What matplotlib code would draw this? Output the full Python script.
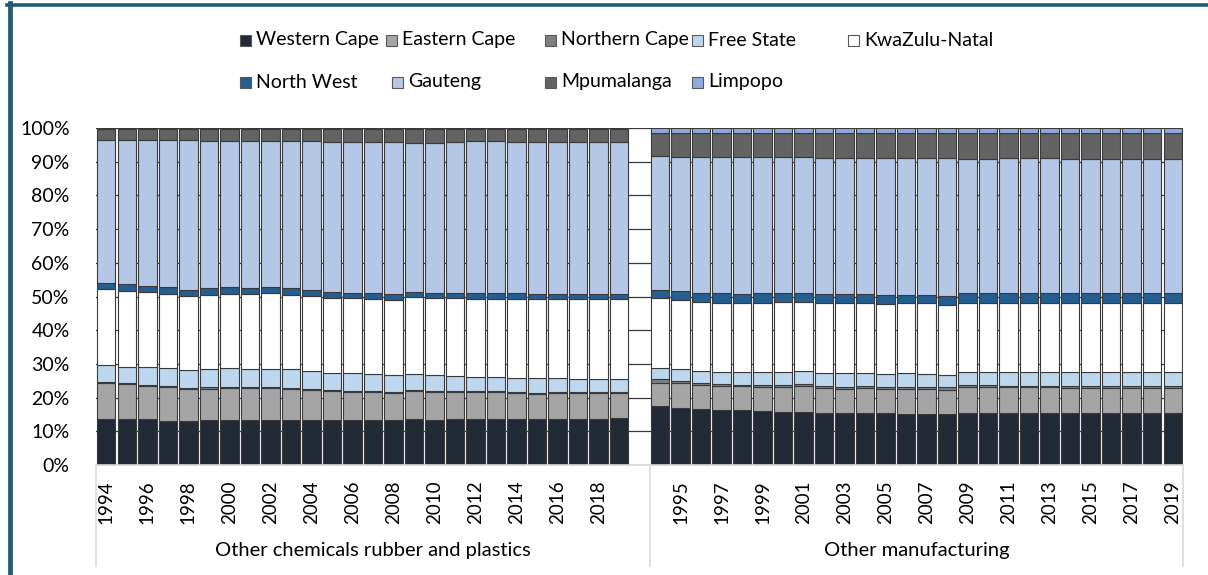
import numpy as np
import matplotlib
matplotlib.use("Agg")
import matplotlib.pyplot as plt
from matplotlib.patches import Rectangle
from matplotlib.lines import Line2D
import matplotlib.transforms as mtransforms

plt.rcParams['font.family'] = ['Lato', 'DejaVu Sans']

# ---------------- data ----------------
years = [1994, 1995, 1996, 1997, 1998, 1999, 2000, 2001, 2002, 2003, 2004, 2005, 2006,
         2007, 2008, 2009, 2010, 2011, 2012, 2013, 2014, 2015, 2016, 2017, 2018, 2019]
groups = ["Other chemicals rubber and plastics", "Other manufacturing"]
provinces = ["Western Cape", "Eastern Cape", "Northern Cape", "Free State", "KwaZulu-Natal",
             "North West", "Gauteng", "Mpumalanga", "Limpopo"]

# Other chemicals rubber and plastics (share %, by year)
chem_wc = [13.6, 13.6, 13.6, 13.2, 13.2, 13.4, 13.4, 13.4, 13.4, 13.4, 13.4, 13.4, 13.4,
           13.4, 13.4, 13.7, 13.4, 13.6, 13.6, 13.6, 13.6, 13.6, 13.7, 13.7, 13.7, 13.9]
chem_ec = [10.7, 10.3, 9.9, 9.9, 9.3, 9.3, 9.5, 9.5, 9.5, 9.2, 9.0, 8.6, 8.4,
           8.4, 8.1, 8.3, 8.4, 8.2, 8.0, 8.0, 7.9, 7.6, 7.7, 7.7, 7.7, 7.5]
chem_nc = [0.3, 0.3, 0.3, 0.3, 0.3, 0.3, 0.3, 0.3, 0.3, 0.3, 0.3, 0.3, 0.3,
           0.3, 0.3, 0.3, 0.3, 0.3, 0.3, 0.3, 0.3, 0.3, 0.3, 0.3, 0.3, 0.3]
chem_fs = [5.1, 5.0, 5.4, 5.3, 5.5, 5.6, 5.5, 5.4, 5.4, 5.5, 5.3, 5.1, 5.1,
           4.9, 4.9, 4.7, 4.6, 4.4, 4.3, 4.1, 4.1, 4.2, 4.0, 3.8, 3.9, 3.9]
chem_kzn = [22.4, 22.4, 22.0, 22.0, 21.8, 21.9, 22.0, 22.1, 22.3, 22.1, 22.2, 22.3, 22.3,
            22.4, 22.3, 22.8, 22.8, 23.0, 23.2, 23.4, 23.5, 23.5, 23.7, 23.9, 23.6, 23.8]
chem_nw = [2.0, 2.0, 2.0, 2.0, 1.8, 2.0, 2.0, 1.9, 2.0, 1.9, 1.8, 1.6, 1.5,
           1.5, 1.7, 1.5, 1.5, 1.6, 1.6, 1.6, 1.5, 1.6, 1.4, 1.4, 1.5, 1.4]
chem_gp = [42.3, 42.7, 43.1, 43.6, 44.4, 43.7, 43.5, 43.6, 43.1, 43.6, 44.0, 44.5, 44.8,
           44.9, 45.1, 44.3, 44.5, 44.7, 45.0, 45.0, 44.9, 44.9, 44.9, 44.9, 45.0, 44.9]
chem_mp = [3.2, 3.3, 3.3, 3.3, 3.3, 3.4, 3.4, 3.4, 3.6, 3.6, 3.6, 3.8, 3.8,
           3.8, 3.8, 4.0, 4.1, 3.8, 3.6, 3.6, 3.8, 3.9, 3.9, 3.9, 3.9, 3.9]
chem_lp = [0.4, 0.4, 0.4, 0.4, 0.4, 0.4, 0.4, 0.4, 0.4, 0.4, 0.4, 0.4, 0.4,
           0.4, 0.4, 0.4, 0.4, 0.4, 0.4, 0.4, 0.4, 0.4, 0.4, 0.4, 0.4, 0.4]

# Other manufacturing (share %, by year)
manu_wc = [17.5, 17.0, 16.5, 16.3, 16.3, 16.1, 15.8, 15.7, 15.5, 15.3, 15.5, 15.3, 15.1,
           15.1, 15.1, 15.5, 15.5, 15.3, 15.3, 15.3, 15.3, 15.3, 15.3, 15.3, 15.3, 15.3]
manu_ec = [6.9, 7.2, 7.1, 7.2, 7.1, 7.1, 7.4, 7.7, 7.4, 7.3, 7.4, 7.3, 7.5,
           7.5, 7.3, 7.7, 7.7, 7.7, 7.7, 7.7, 7.5, 7.5, 7.5, 7.5, 7.5, 7.5]
manu_nc = [1.0, 0.8, 0.6, 0.4, 0.4, 0.5, 0.5, 0.5, 0.6, 0.6, 0.6, 0.6, 0.6,
           0.6, 0.6, 0.5, 0.5, 0.5, 0.5, 0.5, 0.6, 0.6, 0.6, 0.6, 0.6, 0.6]
manu_fs = [3.3, 3.4, 3.8, 3.8, 3.7, 3.8, 4.0, 4.0, 3.9, 4.0, 3.7, 3.7, 4.0,
           3.8, 3.8, 4.0, 4.0, 4.0, 4.0, 4.0, 4.1, 4.1, 4.1, 4.1, 4.1, 4.1]
manu_kzn = [20.8, 20.6, 20.4, 20.5, 20.5, 20.7, 20.7, 20.6, 20.6, 20.8, 20.8, 20.8, 20.8,
            21.0, 20.6, 20.5, 20.5, 20.5, 20.5, 20.5, 20.5, 20.5, 20.5, 20.5, 20.5, 20.5]
manu_nw = [2.4, 2.5, 2.7, 2.7, 2.7, 2.7, 2.5, 2.6, 2.7, 2.6, 2.7, 2.7, 2.4,
           2.4, 2.8, 2.9, 2.9, 3.1, 2.9, 2.9, 2.9, 2.9, 2.9, 2.9, 2.9, 2.9]
manu_gp = [39.8, 40.0, 40.4, 40.6, 40.6, 40.4, 40.4, 40.2, 40.3, 40.4, 40.3, 40.6, 40.6,
           40.6, 40.8, 39.6, 39.6, 39.9, 40.1, 40.1, 39.8, 39.8, 39.8, 39.8, 39.8, 39.8]
manu_mp = [6.7, 6.9, 6.9, 6.9, 7.1, 7.1, 7.1, 7.1, 7.4, 7.4, 7.4, 7.4, 7.4,
           7.4, 7.4, 7.7, 7.7, 7.4, 7.4, 7.4, 7.7, 7.7, 7.7, 7.7, 7.7, 7.7]
manu_lp = [1.6, 1.6, 1.6, 1.6, 1.6, 1.6, 1.6, 1.6, 1.6, 1.6, 1.6, 1.6, 1.6,
           1.6, 1.6, 1.6, 1.6, 1.6, 1.6, 1.6, 1.6, 1.6, 1.6, 1.6, 1.6, 1.6]

colors = ['#222a35', '#a5a5a5', '#7f7f7f', '#bdd7ee', '#ffffff',
          '#255e91', '#b4c7e7', '#636363', '#8faadc']

chem = [chem_wc, chem_ec, chem_nc, chem_fs, chem_kzn, chem_nw, chem_gp, chem_mp, chem_lp]
manu = [manu_wc, manu_ec, manu_nc, manu_fs, manu_kzn, manu_nw, manu_gp, manu_mp, manu_lp]

# ---------------- figure ----------------
W, H = 1208, 575
fig = plt.figure(figsize=(W / 100, H / 100), dpi=100)
ax = fig.add_axes([96 / W, 1 - 465 / H, (1183 - 96) / W, (465 - 128) / H])

n = len(years)
x_chem = np.arange(n)
x_manu = np.arange(n) + n + 1

for xs, data in ((x_chem, chem), (x_manu, manu)):
    arr = np.array(data, dtype=float)
    arr = arr / arr.sum(axis=0) * 100.0
    bottom = np.zeros(arr.shape[1])
    for k in range(arr.shape[0]):
        ax.bar(xs, arr[k], bottom=bottom, width=0.9, color=colors[k],
               edgecolor='#3a3a3a', linewidth=0.8, zorder=2)
        bottom += arr[k]

ax.set_xlim(-0.5, 2 * n + 0.5)
ax.set_ylim(0, 100)
ax.set_yticks(np.arange(0, 101, 10))
ax.set_yticklabels([f"{v}%" for v in range(0, 101, 10)], fontsize=14)
ax.yaxis.grid(True, color='#3a3a3a', linewidth=0.9, zorder=0)
ax.set_axisbelow(True)

# category ticks: every other slot across the combined axis
all_labels = [str(y) for y in years] + [""] + [str(y) for y in years]
pos = np.arange(0, 2 * n + 1, 2)
ax.set_xticks(pos)
ax.set_xticklabels([all_labels[p] for p in pos], rotation=90, fontsize=13.5)
ax.tick_params(axis='both', length=0)
ax.tick_params(axis='x', pad=11)
ax.tick_params(axis='y', pad=19)

for s in ['top', 'right', 'left']:
    ax.spines[s].set_visible(False)
ax.spines['bottom'].set_color('#d9d9d9')
ax.spines['bottom'].set_linewidth(1.2)

trans = mtransforms.blended_transform_factory(ax.transData, ax.transAxes)
for xv in (-0.5, n + 0.5, 2 * n + 0.5):
    ax.add_line(Line2D([xv, xv], [0, -0.30], transform=trans, color='#d9d9d9',
                       linewidth=1.2, clip_on=False))

ax.text((-0.5 + n + 0.5) / 2, -0.255, groups[0], transform=trans, ha='center',
        va='center', fontsize=14.5)
ax.text((n + 0.5 + 2 * n + 0.5) / 2, -0.255, groups[1], transform=trans, ha='center',
        va='center', fontsize=14.5)

# ---------------- legend (manual, Excel-like grid) ----------------
leg_pos = [(240, 40), (386, 40), (545, 40), (692, 40), (848, 40),
           (240, 82), (392, 82), (545, 82), (692, 82)]
sq = 11
for (px, py), name, c in zip(leg_pos, provinces, colors):
    fig.patches.append(Rectangle((px / W, 1 - (py + sq / 2) / H), sq / W, sq / H,
                                 transform=fig.transFigure, facecolor=c,
                                 edgecolor='#595959', linewidth=0.8))
    fig.text((px + sq + 5) / W, 1 - py / H, name, ha='left', va='center', fontsize=14)

# ---------------- frame ----------------
frame_c = '#215a72'
fig.add_artist(Line2D([7 / W, 1.0], [1 - 4.5 / H, 1 - 4.5 / H], transform=fig.transFigure,
                      color=frame_c, linewidth=2.6))
fig.add_artist(Line2D([9.5 / W, 9.5 / W], [0, 1 - 3 / H], transform=fig.transFigure,
                      color=frame_c, linewidth=3.4))

fig.savefig("out.png", dpi=100)
